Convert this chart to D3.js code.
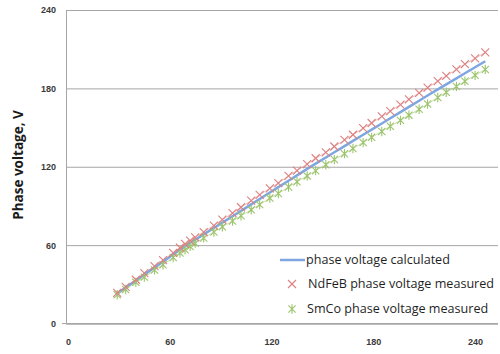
<!DOCTYPE html>
<html>
<head>
<meta charset="utf-8">
<script src="https://cdn.jsdelivr.net/npm/d3@7"></script>
<style>
  html, body { margin: 0; padding: 0; background: #fff; }
  svg { display: block; font-family: "Open Sans", "Liberation Sans", sans-serif; }
</style>
</head>
<body>
<svg id="chart" width="500" height="354"></svg>
<script>
// Speed points (x) shared by every series
const speed = [29, 34, 40, 45, 51, 56, 62, 66, 69, 72, 75, 80, 86, 91, 97, 102, 108, 113, 119, 124,
               130, 135, 141, 146, 152, 157, 163, 168, 174, 179, 185, 190, 196, 201, 207, 212, 218, 223, 229, 234, 240, 246];
// Calculated phase voltage, V
const calculated = [23, 27.5, 32.9, 37.4, 42.8, 47.3, 52.8, 56.4, 59.1, 61.6, 64.1, 68.2, 73.1, 77.2, 82.1, 86.2, 91.2, 95.3, 100.3, 104.4,
                    109.3, 113.4, 118.4, 122.4, 127.1, 131.1, 135.8, 139.8, 144.5, 148.4, 153.1, 157.1, 161.8, 165.8, 170.5, 174.5, 179.2, 183.1, 187.7, 191.6, 196.2, 200.8];
// NdFeB measured phase voltage, V
const ndfeb = [23.5, 28, 33.5, 38.5, 44, 48.5, 54, 58, 61, 63.5, 66, 70, 75, 79.5, 84.5, 89, 94, 98.5, 103.5, 107.5,
               113, 117, 122, 126.5, 131, 135.5, 140.5, 144.5, 149.5, 153.5, 158.5, 162.5, 167.5, 171.5, 176.5, 180.5, 185.5, 189.5, 194.5, 198.5, 203, 207.5];
// SmCo measured phase voltage, V
const smco = [22, 26, 31.5, 35.5, 41, 45, 50.5, 54, 56.5, 59, 61.5, 65.5, 70, 74, 78.5, 82.5, 87, 91, 96, 99.5,
              104.5, 108.5, 113, 117, 121.5, 125.5, 130, 134, 138.5, 142.5, 147, 151, 155.5, 159.5, 164, 168, 173, 177, 181.5, 185.5, 190, 194.5];

const xTicks = [0, 60, 120, 180, 240];
const yTicks = [0, 60, 120, 180, 240];
const legendLabels = ["phase voltage calculated", "NdFeB phase voltage measured", "SmCo phase voltage measured"];
const yTitle = "Phase voltage, V";

const svg = d3.select("#chart");
const plot = { left: 66, right: 498, top: 10, bottom: 323.5 };

const x = d3.scaleLinear().domain([0, 253.5]).range([68, 498]);
const y = d3.scaleLinear().domain([0, 240]).range([plot.bottom, plot.top]);

const gridColor = "#a6a6a6";
const tickColor = "#3a3a3a";

// horizontal gridlines
const yAxis = d3.axisLeft(y).tickValues(yTicks).tickSize(-(plot.right - plot.left)).tickPadding(10);
const gy = svg.append("g").attr("transform", `translate(${plot.left},0)`).call(yAxis);
gy.select(".domain").attr("stroke", gridColor);
gy.selectAll(".tick line").attr("stroke", gridColor).attr("stroke-width", 1);
gy.selectAll(".tick text").attr("fill", tickColor).attr("font-size", 9).attr("font-weight", "bold");

// bottom axis labels
const xAxis = d3.axisBottom(x).tickValues(xTicks).tickSize(0).tickPadding(15);
const gx = svg.append("g").attr("transform", `translate(0,${plot.bottom})`).call(xAxis);
gx.select(".domain").remove();
gx.selectAll(".tick text").attr("fill", tickColor).attr("font-size", 9).attr("font-weight", "bold");

// bottom axis line
svg.append("line")
  .attr("x1", plot.left - 4).attr("x2", plot.right)
  .attr("y1", y(0)).attr("y2", y(0))
  .attr("stroke", gridColor);

// axis title
svg.append("text")
  .attr("transform", `translate(18,165) rotate(-90)`)
  .attr("text-anchor", "middle")
  .attr("dy", "0.35em")
  .attr("font-size", 13.5)
  .attr("font-weight", "bold")
  .attr("fill", "#1a1a1a")
  .text(yTitle);

const red = "#dd8080";
const green = "#9cc46c";
const blue = "#7ea6e0";

const lineGen = (vals) => d3.line().x((d, i) => x(speed[i])).y(d => y(d))(vals);

// thin connectors of measured series
svg.append("path").attr("d", lineGen(ndfeb)).attr("fill", "none")
  .attr("stroke", red).attr("stroke-width", 0.8).attr("opacity", 0.7);
svg.append("path").attr("d", lineGen(smco)).attr("fill", "none")
  .attr("stroke", green).attr("stroke-width", 0.8).attr("opacity", 0.7);

// calculated curve
svg.append("path").attr("d", lineGen(calculated)).attr("fill", "none")
  .attr("stroke", blue).attr("stroke-width", 2.5);

function crossMark(g, cx, cy, r, color) {
  g.append("path")
    .attr("d", `M${cx - r},${cy - r}L${cx + r},${cy + r}M${cx - r},${cy + r}L${cx + r},${cy - r}`)
    .attr("stroke", color).attr("stroke-width", 1.1).attr("fill", "none");
}
function starMark(g, cx, cy, r, color) {
  g.append("path")
    .attr("d", `M${cx - r},${cy - r}L${cx + r},${cy + r}M${cx - r},${cy + r}L${cx + r},${cy - r}M${cx},${cy - r * 1.3}L${cx},${cy + r * 1.3}`)
    .attr("stroke", color).attr("stroke-width", 1.1).attr("fill", "none");
}

const gGreen = svg.append("g");
smco.forEach((v, i) => starMark(gGreen, x(speed[i]), y(v), 3.6, green));
const gRed = svg.append("g");
ndfeb.forEach((v, i) => crossMark(gRed, x(speed[i]), y(v), 4, red));

// legend
const lg = svg.append("g");
const rows = [260, 284, 309];
lg.append("line").attr("x1", 280).attr("x2", 305).attr("y1", rows[0]).attr("y2", rows[0])
  .attr("stroke", blue).attr("stroke-width", 2.5);
crossMark(lg, 292, rows[1], 4, red);
starMark(lg, 292, rows[2], 3.6, green);
const textX = [306, 308, 307];
legendLabels.forEach((t, i) => {
  lg.append("text").attr("x", textX[i]).attr("y", rows[i]).attr("dy", "0.35em")
    .attr("font-size", 12.6).attr("fill", "#1f1f1f").text(t);
});
</script>
</body>
</html>
